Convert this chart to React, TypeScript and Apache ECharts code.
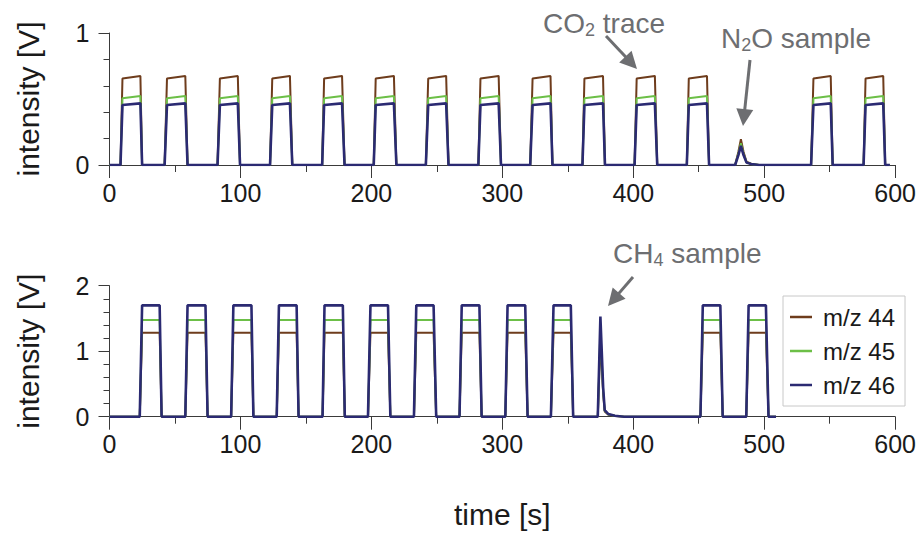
import React, { useEffect, useRef } from "react";
import * as echarts from "echarts";

const seriesNames = ["m/z 44", "m/z 45", "m/z 46"];
const seriesColors = ["#6e3c1c", "#6cbf47", "#2b2a72"];
const seriesWidths = [2, 2, 2.6];

// ---- top panel: CO2 reference pulses (s) ----
const topRiseStart = [8.4, 42.1, 82.5, 122.6, 162.4, 201.8, 241.6, 281.7, 321.3, 361.2, 401.0, 440.9, 535.8, 575.9];
const topRiseEnd = [9.9, 43.9, 84.3, 124.3, 163.9, 203.3, 243.4, 283.3, 323.1, 362.7, 402.6, 442.4, 537.6, 577.4];
const topFallStart = [23.6, 57.9, 98.0, 137.8, 177.6, 217.2, 257.1, 297.2, 336.8, 376.9, 416.5, 456.3, 550.8, 590.9];
const topFallEnd = [24.9, 59.6, 99.7, 139.6, 179.5, 219.1, 258.9, 299.0, 338.3, 378.4, 418.3, 457.9, 552.3, 592.4];
const topLevelStart = [0.655, 0.505, 0.455];
const topLevelEnd = [0.675, 0.522, 0.467];
const topEnd = 596;
const n2oTimes = [477.8, 480.3, 482.2, 484.2, 486.5, 490, 496];
const n2o44 = [0, 0.1, 0.195, 0.1, 0.025, 0.01, 0];
const n2o45 = [0, 0.085, 0.165, 0.085, 0.02, 0.008, 0];
const n2o46 = [0, 0.075, 0.145, 0.075, 0.018, 0.007, 0];

// ---- bottom panel: CH4 run (s) ----
const botRiseStart = [23.1, 57.9, 92.9, 127.7, 162.7, 197.4, 232.5, 267.3, 302.3, 337.1, 451.3, 486.3];
const botRiseEnd = [24.9, 59.6, 94.6, 129.4, 164.2, 199.3, 234.3, 269.0, 304.0, 339.1, 453.1, 488.1];
const botFallStart = [38.3, 73.3, 108.4, 142.9, 178.2, 212.7, 247.5, 282.5, 317.5, 352.3, 466.5, 501.3];
const botFallEnd = [39.8, 74.9, 109.9, 144.4, 179.7, 214.5, 249.5, 284.2, 319.3, 354.1, 468.3, 503.3];
const botLevel = [1.283, 1.475, 1.7];
const botEnd = 509;
const ch4Times = [372.9, 374.9, 377.0, 378.2, 381, 386, 393];
const ch4_44 = [0, 1.16, 0.35, 0.08, 0.03, 0.01, 0];
const ch4_45 = [0, 1.33, 0.4, 0.09, 0.035, 0.013, 0];
const ch4_46 = [0, 1.53, 0.45, 0.1, 0.04, 0.015, 0];

const xLabels = ["0", "100", "200", "300", "400", "500", "600"];

function buildTrace(
  rs: number[], re: number[], fs: number[], fe: number[],
  lvlStart: number, lvlEnd: number,
  peakT: number[], peakV: number[], end: number
) {
  const pts: [number, number][] = [[0, 0]];
  let peakDone = false;
  for (let i = 0; i < rs.length; i++) {
    if (!peakDone && rs[i] > peakT[0]) {
      peakT.forEach((t, j) => pts.push([t, peakV[j]]));
      peakDone = true;
    }
    pts.push([rs[i], 0], [re[i], lvlStart], [fs[i], lvlEnd], [fe[i], 0]);
  }
  if (!peakDone) peakT.forEach((t, j) => pts.push([t, peakV[j]]));
  pts.push([end, 0]);
  return pts;
}

const FONT = "'Liberation Sans', Arial, Helvetica, sans-serif";
const GRAY = "#6d6e71";
const AXIS = "#3a3a3a";
const ANN_SIZE = 28;
const SUB_SIZE = 18;

function measure(text: string, size: number) {
  const ctx = document.createElement("canvas").getContext("2d");
  if (!ctx) return text.length * size * 0.55;
  ctx.font = `${size}px ${FONT}`;
  return ctx.measureText(text).width;
}

function arrow(x1: number, y1: number, x2: number, y2: number) {
  const dx = x2 - x1, dy = y2 - y1;
  const len = Math.sqrt(dx * dx + dy * dy);
  const ux = dx / len, uy = dy / len;
  const headL = 17, headW = 8.5;
  const bx = x2 - ux * headL, by = y2 - uy * headL;
  const px = -uy, py = ux;
  return [
    {
      type: "line",
      shape: { x1, y1, x2: bx + ux * 2, y2: by + uy * 2 },
      style: { stroke: GRAY, lineWidth: 3 },
    },
    {
      type: "polygon",
      shape: {
        points: [
          [x2, y2],
          [bx + px * headW, by + py * headW],
          [bx - px * headW, by - py * headW],
        ],
      },
      style: { fill: GRAY },
    },
  ];
}

function annot(x: number, y: number, a: string, sub: string, b: string) {
  const wa = measure(a, ANN_SIZE);
  const ws = measure(sub, SUB_SIZE);
  const base = { fill: GRAY, fontFamily: FONT, align: "left", verticalAlign: "middle" };
  return [
    { type: "text", x, y, style: { ...base, text: a, fontSize: ANN_SIZE } },
    { type: "text", x: x + wa, y: y + 7, style: { ...base, text: sub, fontSize: SUB_SIZE } },
    { type: "text", x: x + wa + ws, y, style: { ...base, text: b, fontSize: ANN_SIZE } },
  ];
}

function xAxisCfg(gridIndex: number, withName: boolean) {
  return {
    type: "value",
    gridIndex,
    min: 0,
    max: 600,
    interval: 100,
    name: withName ? "time [s]" : "",
    nameLocation: "middle",
    nameGap: 83,
    nameTextStyle: { fontSize: 30, fontFamily: FONT, color: "#1a1a1a" },
    axisLine: { show: true, onZero: false, lineStyle: { color: AXIS, width: 1 } },
    axisTick: { show: true, length: 13, lineStyle: { color: AXIS } },
    minorTick: { show: true, splitNumber: 2, length: 7, lineStyle: { color: AXIS } },
    splitLine: { show: false },
    minorSplitLine: { show: false },
    axisLabel: {
      fontSize: 25,
      fontFamily: FONT,
      color: "#1a1a1a",
      margin: 15,
      formatter: (v: number) => xLabels[Math.round(v / 100)] ?? "",
    },
  };
}

function yAxisCfg(gridIndex: number, max: number) {
  return {
    type: "value",
    gridIndex,
    min: 0,
    max,
    interval: 1,
    name: "intensity [V]",
    nameLocation: "middle",
    nameGap: 66,
    nameTextStyle: { fontSize: 30, fontFamily: FONT, color: "#1a1a1a" },
    axisLine: { show: true, lineStyle: { color: AXIS, width: 1 } },
    axisTick: { show: true, length: 11, lineStyle: { color: AXIS } },
    minorTick: { show: true, splitNumber: 5, length: 6, lineStyle: { color: AXIS } },
    splitLine: { show: false },
    minorSplitLine: { show: false },
    axisLabel: { fontSize: 25, fontFamily: FONT, color: "#1a1a1a", margin: 20 },
  };
}

export default function App() {
  const ref = useRef<HTMLDivElement>(null);
  useEffect(() => {
    if (!ref.current) return;
    const chart = echarts.init(ref.current, undefined, { renderer: "svg" });
    const n2o = [n2o44, n2o45, n2o46];
    const ch4 = [ch4_44, ch4_45, ch4_46];
    const series: any[] = [];
    for (let k = 0; k < 3; k++) {
      series.push({
        name: seriesNames[k],
        type: "line",
        xAxisIndex: 0,
        yAxisIndex: 0,
        showSymbol: false,
        symbol: "none",
        data: buildTrace(topRiseStart, topRiseEnd, topFallStart, topFallEnd,
          topLevelStart[k], topLevelEnd[k], n2oTimes, n2o[k], topEnd),
        lineStyle: { color: seriesColors[k], width: seriesWidths[k] },
        itemStyle: { color: seriesColors[k] },
      });
    }
    for (let k = 0; k < 3; k++) {
      series.push({
        name: seriesNames[k],
        type: "line",
        xAxisIndex: 1,
        yAxisIndex: 1,
        showSymbol: false,
        symbol: "none",
        data: buildTrace(botRiseStart, botRiseEnd, botFallStart, botFallEnd,
          botLevel[k], botLevel[k], ch4Times, ch4[k], botEnd),
        lineStyle: { color: seriesColors[k], width: seriesWidths[k] },
        itemStyle: { color: seriesColors[k] },
      });
    }
    chart.setOption({
      animation: false,
      backgroundColor: "#ffffff",
      grid: [
        { left: 109.5, right: 22, top: 33, height: 132 },
        { left: 109.5, right: 22, top: 285.7, height: 131 },
      ],
      xAxis: [xAxisCfg(0, false), xAxisCfg(1, true)],
      yAxis: [yAxisCfg(0, 1), yAxisCfg(1, 2)],
      legend: {
        data: seriesNames,
        orient: "vertical",
        left: 783,
        top: 296,
        padding: [8, 10, 8, 7],
        itemGap: 8,
        itemWidth: 22,
        itemHeight: 2.5,
        icon: "rect",
        borderColor: "#c8c8c8",
        borderWidth: 1,
        backgroundColor: "#ffffff",
        textStyle: { fontSize: 24, fontFamily: FONT, color: "#1a1a1a", lineHeight: 26, padding: [0, 0, 0, 6] },
      },
      graphic: [
        ...annot(543, 23, "CO", "2", " trace"),
        ...arrow(606, 36, 637, 69),
        ...annot(721, 38, "N", "2", "O sample"),
        ...arrow(750, 60, 743, 126),
        ...annot(613, 253, "CH", "4", " sample"),
        ...arrow(633, 277, 608, 306),
      ],
      series,
    });
    return () => chart.dispose();
  }, []);
  return (
    <div
      ref={ref}
      style={{ position: "fixed", left: 0, top: 0, width: 919, height: 533 }}
    />
  );
}
